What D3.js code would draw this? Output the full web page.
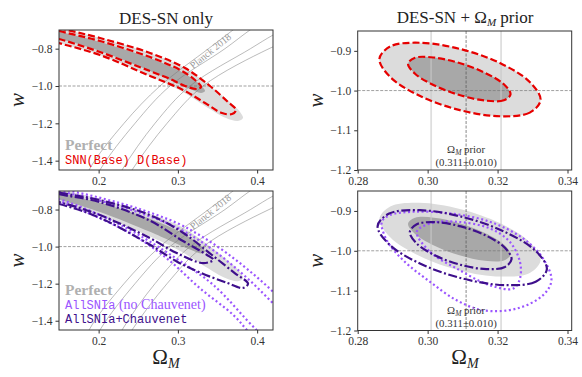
<!DOCTYPE html>
<html>
<head>
<meta charset="utf-8">
<script src="https://cdn.jsdelivr.net/npm/d3@7"></script>
<style>
  body { margin: 0; background: #fff; }
  svg { display: block; }
  text { font-family: "Liberation Serif", "DejaVu Serif", serif; fill: #222; }
  .tick text { font-size: 11.5px; }
  .mono { font-family: "Liberation Mono", "DejaVu Sans Mono", monospace; }
</style>
</head>
<body>
<svg width="582" height="377"></svg>
<script>
// tick values
const omegaTicksWide = [0.2, 0.3, 0.4];
const wTicksWide = [-0.8, -1.0, -1.2, -1.4];
const omegaTicksPrior = [0.28, 0.30, 0.32, 0.34];
const wTicksPrior = [-0.9, -1.0, -1.1, -1.2];

// prior on Omega_M
const priorMean = 0.311;
const priorSigma = 0.010;

// ---- DES-SN only : contours as [Omega_M, w] ----
const perfectOuterWide = [[0.101,-0.636],[0.15,-0.689],[0.2017,-0.743],[0.2648,-0.823],[0.309,-0.904],[0.3405,-1.0],[0.3657,-1.086],[0.3784,-1.139],[0.3821,-1.171],[0.3758,-1.187],[0.3607,-1.171],[0.3342,-1.107],[0.3065,-1.032],[0.2648,-0.946],[0.2017,-0.834],[0.15,-0.770],[0.101,-0.711]];
const perfectInnerWide = [[0.101,-0.652],[0.15,-0.708],[0.2017,-0.764],[0.2648,-0.85],[0.3027,-0.920],[0.3241,-0.979],[0.3342,-1.027],[0.3292,-1.037],[0.3153,-1.016],[0.29,-0.968],[0.2648,-0.920],[0.2017,-0.813],[0.15,-0.746],[0.101,-0.689]];
const snnOuterWide = [[0.101,-0.636],[0.15,-0.689],[0.2017,-0.743],[0.2648,-0.823],[0.309,-0.904],[0.3405,-1.0],[0.3632,-1.086],[0.3733,-1.128],[0.3683,-1.150],[0.3557,-1.145],[0.3342,-1.091],[0.3065,-1.021],[0.2648,-0.946],[0.2017,-0.834],[0.15,-0.770],[0.101,-0.711]];
const snnInnerWide = [[0.101,-0.647],[0.15,-0.705],[0.2017,-0.759],[0.2648,-0.845],[0.3027,-0.914],[0.3216,-0.968],[0.3292,-1.005],[0.3241,-1.016],[0.309,-1.0],[0.29,-0.962],[0.2648,-0.920],[0.2017,-0.818],[0.15,-0.748],[0.101,-0.695]];
const chauvOuterWide = [[0.10,-0.66],[0.15,-0.708],[0.2017,-0.749],[0.2648,-0.83],[0.3065,-0.925],[0.3426,-1.044],[0.3721,-1.144],[0.3885,-1.2],[0.3821,-1.223],[0.3616,-1.195],[0.3279,-1.14],[0.2985,-1.08],[0.2648,-0.99],[0.2017,-0.845],[0.15,-0.77],[0.10,-0.727]];
const chauvInnerWide = [[0.10,-0.67],[0.15,-0.717],[0.2017,-0.76],[0.2648,-0.86],[0.3065,-0.97],[0.3363,-1.044],[0.3447,-1.071],[0.332,-1.089],[0.2985,-1.035],[0.2648,-0.954],[0.2017,-0.83],[0.15,-0.76],[0.10,-0.72]];
const noChauvOuterWide = [[0.10,-0.63],[0.15,-0.685],[0.2,-0.735],[0.25,-0.795],[0.30,-0.875],[0.33,-0.945],[0.36,-1.03],[0.39,-1.13],[0.42,-1.243],[0.45,-1.37],[0.47,-1.48],[0.46,-1.56],[0.41,-1.56],[0.387,-1.45],[0.37,-1.369],[0.3279,-1.225],[0.2859,-1.063],[0.2437,-0.937],[0.2017,-0.847],[0.151,-0.758],[0.10,-0.70]];
const noChauvInnerWide = [[0.10,-0.64],[0.15,-0.70],[0.2,-0.75],[0.25,-0.815],[0.30,-0.90],[0.33,-0.975],[0.36,-1.07],[0.39,-1.18],[0.42,-1.306],[0.45,-1.44],[0.46,-1.5],[0.445,-1.55],[0.43,-1.56],[0.3994,-1.45],[0.3447,-1.207],[0.2944,-1.0545],[0.2437,-0.92],[0.2017,-0.83],[0.151,-0.745],[0.10,-0.69]];
// Planck 2018 edges (open curves)
const planckLines = [
  [[0.17,-1.65],[0.1879,-1.45],[0.232,-1.2],[0.2774,-1.0],[0.3386,-0.8],[0.3695,-0.7],[0.40,-0.6]],
  [[0.18,-1.65],[0.2017,-1.45],[0.2459,-1.2],[0.29,-1.0],[0.3594,-0.8],[0.391,-0.7],[0.42,-0.62]],
  [[0.205,-1.65],[0.2295,-1.45],[0.2711,-1.2],[0.3153,-1.0],[0.3916,-0.8],[0.42,-0.727],[0.45,-0.66]],
  [[0.215,-1.65],[0.2421,-1.45],[0.2863,-1.2],[0.3317,-1.0],[0.415,-0.8],[0.45,-0.74]]
];

// ---- DES-SN + Omega_M prior ----
const perfectOuterPrior = [[0.3323,-1.0238],[0.3292,-1.0555],[0.3208,-1.0647],[0.3092,-1.0492],[0.2977,-1.0131],[0.2893,-0.966],[0.2862,-0.9205],[0.2893,-0.8889],[0.2977,-0.8796],[0.3092,-0.8951],[0.3208,-0.9312],[0.3292,-0.9783]];
const perfectInnerPrior = [[0.3237,-1.0094],[0.3218,-1.0244],[0.3164,-1.0251],[0.3091,-1.0112],[0.3018,-0.9865],[0.2964,-0.9577],[0.2944,-0.9324],[0.2964,-0.9174],[0.3018,-0.9168],[0.3091,-0.9306],[0.3164,-0.9553],[0.3218,-0.9841]];
const snnOuterPrior = perfectOuterPrior;
const snnInnerPrior = perfectInnerPrior;
const chauvOuterPrior = [[0.3341,-1.0462],[0.3309,-1.0776],[0.322,-1.0861],[0.3099,-1.0694],[0.2978,-1.032],[0.289,-0.9839],[0.2857,-0.9381],[0.289,-0.9067],[0.2978,-0.8982],[0.3099,-0.9149],[0.322,-0.9523],[0.3309,-1.0004]];
const chauvInnerPrior = [[0.324,-1.0211],[0.3221,-1.0407],[0.3168,-1.046],[0.3095,-1.0354],[0.3022,-1.012],[0.2969,-0.9818],[0.2949,-0.9531],[0.2969,-0.9335],[0.3022,-0.9282],[0.3095,-0.9388],[0.3168,-0.9622],[0.3221,-0.9924]];
const noChauvOuterPrior = [[0.2869,-0.9272],[0.2883,-0.9733],[0.293,-1.0236],[0.3007,-1.0782],[0.3083,-1.1242],[0.3159,-1.1494],[0.3254,-1.1451],[0.333,-1.1116],[0.3354,-1.0739],[0.333,-1.0193],[0.3273,-0.969],[0.3178,-0.9272],[0.3064,-0.9061],[0.2959,-0.9021],[0.2892,-0.9104]];
const noChauvInnerPrior = [[0.2969,-0.9524],[0.3007,-1.0027],[0.3083,-1.0445],[0.3178,-1.0865],[0.3245,-1.0948],[0.3264,-1.0696],[0.3264,-1.0279],[0.3235,-0.9775],[0.3178,-0.9438],[0.3083,-0.9272],[0.3007,-0.9313]];

const colors = { snn: '#e60000', chauv: '#3e0f8c', noChauv: '#9b55ff', outerFill: '#dcdcdc', innerFill: '#a8a8a8', perfectText: '#b0b0b0' };
const styles = {
  snn: { stroke: colors.snn, dash: '7,3' },
  chauv: { stroke: colors.chauv, dash: '9,2.5,2,2.5' },
  noChauv: { stroke: colors.noChauv, dash: '2,2.6' }
};

const svg = d3.select('svg');

const panels = [
  { id: 'tl', x: d3.scaleLinear().domain([0.15, 0.42]).range([59, 273]), y: d3.scaleLinear().domain([-1.45, -0.7]).range([170, 30]),
    xt: omegaTicksWide, yt: wTicksWide, xf: '.1f', yf: '.1f', wide: true,
    fills: [perfectOuterWide, perfectInnerWide], lines: [['snn', snnOuterWide], ['snn', snnInnerWide]] },
  { id: 'tr', x: d3.scaleLinear().domain([0.28, 0.3412]).range([357.7, 571.7]), y: d3.scaleLinear().domain([-1.2, -0.85]).range([170, 31]),
    xt: omegaTicksPrior, yt: wTicksPrior, xf: '.2f', yf: '.1f', wide: false,
    fills: [perfectOuterPrior, perfectInnerPrior], lines: [['snn', snnOuterPrior], ['snn', snnInnerPrior]] },
  { id: 'bl', x: d3.scaleLinear().domain([0.15, 0.42]).range([59, 273]), y: d3.scaleLinear().domain([-1.45, -0.7]).range([330, 191]),
    xt: omegaTicksWide, yt: wTicksWide, xf: '.1f', yf: '.1f', wide: true,
    fills: [perfectOuterWide, perfectInnerWide],
    lines: [['noChauv', noChauvOuterWide], ['noChauv', noChauvInnerWide], ['chauv', chauvOuterWide], ['chauv', chauvInnerWide]] },
  { id: 'br', x: d3.scaleLinear().domain([0.28, 0.3412]).range([357.7, 571.7]), y: d3.scaleLinear().domain([-1.2, -0.85]).range([330.5, 191]),
    xt: omegaTicksPrior, yt: wTicksPrior, xf: '.2f', yf: '.1f', wide: false,
    fills: [perfectOuterPrior, perfectInnerPrior],
    lines: [['noChauv', noChauvOuterPrior], ['noChauv', noChauvInnerPrior], ['chauv', chauvOuterPrior], ['chauv', chauvInnerPrior]] }
];

const defs = svg.append('defs');

panels.forEach((p) => {
  const [x0, x1] = p.x.range();
  const [y1, y0] = p.y.range();
  defs.append('clipPath').attr('id', `clip-${p.id}`)
    .append('rect').attr('x', x0).attr('y', y0).attr('width', x1 - x0).attr('height', y1 - y0);

  const g = svg.append('g');
  const plot = g.append('g').attr('clip-path', `url(#clip-${p.id})`);
  const closed = d3.line().x(d => p.x(d[0])).y(d => p.y(d[1])).curve(d3.curveCatmullRomClosed.alpha(0.5));
  const open = d3.line().x(d => p.x(d[0])).y(d => p.y(d[1])).curve(d3.curveCatmullRom.alpha(0.5));

  // filled "Perfect" contours
  plot.selectAll('path.fill').data(p.fills).enter().append('path')
    .attr('d', closed)
    .attr('fill', (d, i) => (i === 0 ? colors.outerFill : colors.innerFill));

  if (!p.wide) {
    // prior band edges and mean
    [priorMean - priorSigma, priorMean + priorSigma].forEach((v) => {
      plot.append('line').attr('x1', p.x(v)).attr('x2', p.x(v)).attr('y1', y0).attr('y2', y1)
        .attr('stroke', '#c8c8c8').attr('stroke-opacity', 0.6).attr('stroke-width', 1.8);
    });
    plot.append('line').attr('x1', p.x(priorMean)).attr('x2', p.x(priorMean)).attr('y1', y0).attr('y2', y1)
      .attr('stroke', '#555').attr('stroke-width', 0.7).attr('stroke-dasharray', '3,1.5');
  } else {
    plot.selectAll('path.planck').data(planckLines).enter().append('path')
      .attr('d', open).attr('fill', 'none').attr('stroke', '#777').attr('stroke-width', 0.5);
  }
  plot.append('line').attr('x1', x0).attr('x2', x1).attr('y1', p.y(-1)).attr('y2', p.y(-1))
    .attr('stroke', '#777').attr('stroke-width', 0.7).attr('stroke-dasharray', '3,1.5');

  // sample contours
  p.lines.forEach(([key, pts]) => {
    plot.append('path').attr('d', closed(pts)).attr('fill', 'none')
      .attr('stroke', styles[key].stroke).attr('stroke-width', 2.2)
      .attr('stroke-dasharray', styles[key].dash);
  });

  // frame and axes
  g.append('rect').attr('x', x0).attr('y', y0).attr('width', x1 - x0).attr('height', y1 - y0)
    .attr('fill', 'none').attr('stroke', '#333').attr('stroke-width', 1);
  g.append('g').attr('transform', `translate(0,${y1})`)
    .call(d3.axisBottom(p.x).tickValues(p.xt).tickFormat(d3.format(p.xf)).tickSize(3.5).tickPadding(3))
    .call(a => a.select('.domain').remove());
  g.append('g').attr('transform', `translate(${x0},0)`)
    .call(d3.axisLeft(p.y).tickValues(p.yt).tickFormat(d3.format(p.yf)).tickSize(3.5).tickPadding(3))
    .call(a => a.select('.domain').remove());
  g.selectAll('.tick line').attr('stroke', '#333');
  g.selectAll('.tick text').style('fill', '#333').style('font-family', '"Liberation Serif", serif');

  // y label
  g.append('text').attr('transform', `translate(${x0 - 42},${(y0 + y1) / 2}) rotate(-90)`)
    .attr('text-anchor', 'middle').attr('dy', '0.35em')
    .style('font-size', '21px').style('font-style', 'italic').text('w');

  if (p.wide) {
    g.append('text').attr('transform', `translate(${p.x(0.341)},${p.y(-0.812)}) rotate(-39)`)
      .attr('text-anchor', 'middle').attr('dy', '0.35em').style('font-size', '10px').style('fill', '#999').text('Planck 2018');
  } else {
    const cx = p.x(priorMean);
    const ty = p.y(-1.2);
    g.append('text').attr('x', cx).attr('y', ty - 17).attr('text-anchor', 'middle').style('font-size', '10.8px').style('fill', '#333')
      .html('Ω<tspan dy="2" font-size="7.5px" font-style="italic">M</tspan><tspan dy="-2"> prior</tspan>');
    g.append('text').attr('x', cx).attr('y', ty - 4).attr('text-anchor', 'middle').style('font-size', '10.8px').style('fill', '#333')
      .text(`(${priorMean.toFixed(3)}±${priorSigma.toFixed(3)})`);
  }
});

// titles
svg.append('text').attr('x', 166).attr('y', 24).attr('text-anchor', 'middle').style('font-size', '17px').text('DES-SN only');
svg.append('text').attr('x', 465).attr('y', 23).attr('text-anchor', 'middle').style('font-size', '17px')
  .html('DES-SN + Ω<tspan dy="3" font-size="11px" font-style="italic">M</tspan><tspan dy="-3"> prior</tspan>');

// x labels
[166, 465].forEach((cx) => {
  svg.append('text').attr('x', cx).attr('y', 364).attr('text-anchor', 'middle').style('font-size', '21px')
    .html('Ω<tspan dy="4" font-size="14px" font-style="italic">M</tspan>');
});

// legends
svg.append('text').attr('x', 65).attr('y', 150).style('font-size', '15.5px').style('font-weight', 'bold')
  .style('fill', colors.perfectText).text('Perfect');
svg.append('text').attr('class', 'mono').attr('x', 65).attr('y', 164).style('font-size', '12px')
  .style('fill', colors.snn).text('SNN(Base) D(Base)');
svg.append('text').attr('x', 65).attr('y', 295).style('font-size', '15.5px').style('font-weight', 'bold')
  .style('fill', colors.perfectText).text('Perfect');
svg.append('text').attr('x', 65).attr('y', 309).style('fill', colors.noChauv)
  .html('<tspan class="mono" style="font-size:12px">AllSNIa</tspan><tspan style="font-size:14px"> (no Chauvenet)</tspan>');
svg.append('text').attr('class', 'mono').attr('x', 65).attr('y', 323).style('font-size', '12px')
  .style('fill', colors.chauv).text('AllSNIa+Chauvenet');
</script>
</body>
</html>
